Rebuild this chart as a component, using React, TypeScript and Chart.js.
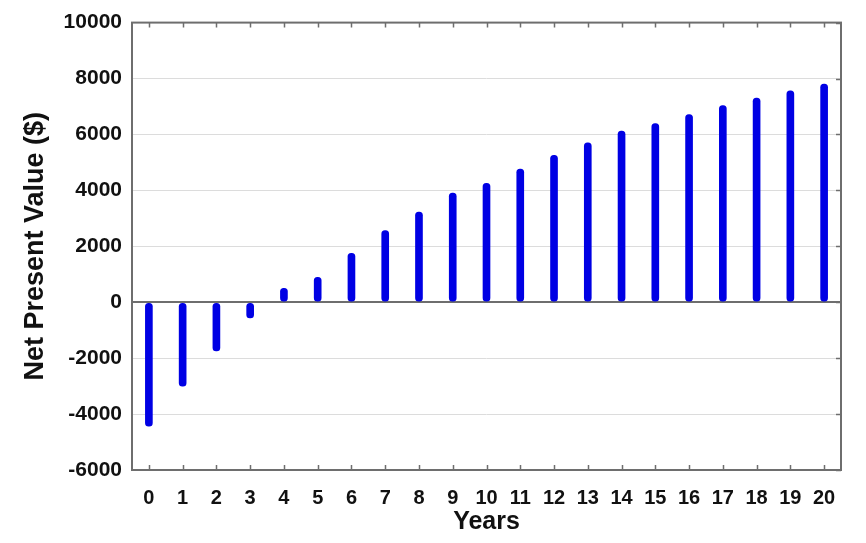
import React, { useEffect, useRef } from "react";
import { Chart, registerables } from "chart.js";

Chart.register(...registerables);

const years = ["0","1","2","3","4","5","6","7","8","9","10","11","12","13","14","15","16","17","18","19","20"];
const npv = [-4430, -3000, -1740, -560, 500, 890, 1745, 2560, 3225, 3900, 4250, 4760, 5255, 5700, 6120, 6390, 6710, 7030, 7300, 7560, 7800];
const yMin = -6000;
const yMax = 10000;
const yStep = 2000;

const FONT = "'Liberation Sans', Arial, Helvetica, sans-serif";

const framePlugin = {
  id: "frame",
  afterDraw(chart: any) {
    const { ctx, chartArea, scales } = chart;
    const { left, right, top, bottom } = chartArea;
    const x = scales.x;
    const y = scales.y;
    ctx.save();
    ctx.strokeStyle = "#6e6e6e";
    ctx.lineWidth = 1.5;
    x.ticks.forEach((_: any, i: number) => {
      const px = Math.round(x.getPixelForTick(i)) + 0.5;
      ctx.beginPath();
      ctx.moveTo(px, top);
      ctx.lineTo(px, top + 5);
      ctx.moveTo(px, bottom);
      ctx.lineTo(px, bottom - 5);
      ctx.stroke();
    });
    y.ticks.forEach((_: any, i: number) => {
      const py = Math.round(y.getPixelForTick(i)) + 0.5;
      ctx.beginPath();
      ctx.moveTo(right, py);
      ctx.lineTo(right - 5, py);
      ctx.stroke();
    });
    ctx.lineWidth = 2;
    ctx.strokeRect(left, top, right - left, bottom - top);
    ctx.restore();
  },
};

export default function App() {
  const ref = useRef<HTMLCanvasElement | null>(null);
  useEffect(() => {
    if (!ref.current) return;
    const chart = new Chart(ref.current, {
      type: "bar",
      data: {
        labels: years,
        datasets: [
          {
            data: npv,
            backgroundColor: "#0000e4",
            barThickness: 7,
            borderRadius: 4,
            borderSkipped: false,
          },
        ],
      },
      options: {
        responsive: false,
        animation: false,
        layout: { padding: { left: 0, top: 19, right: 25, bottom: 0 } },
        plugins: { legend: { display: false }, tooltip: { enabled: false } },
        scales: {
          x: {
            offset: true,
            grid: { display: false },
            border: { display: false },
            ticks: {
              color: "#111",
              padding: 8,
              maxRotation: 0,
              autoSkip: false,
              font: { family: FONT, size: 20, weight: "bold" },
            },
            title: {
              display: true,
              text: "Years",
              color: "#111",
              padding: { top: 0, bottom: 6 },
              font: { family: FONT, size: 25, weight: "bold" },
            },
            afterFit(scale: any) {
              scale.height = 73;
            },
          },
          y: {
            min: yMin,
            max: yMax,
            border: { display: false },
            grid: {
              drawTicks: false,
              color: (c: any) => (c.tick && c.tick.value === 0 ? "#6e6e6e" : "#dcdcdc"),
              lineWidth: (c: any) => (c.tick && c.tick.value === 0 ? 2 : 1),
            },
            ticks: {
              stepSize: yStep,
              color: "#111",
              padding: 10,
              callback: (v: any) => String(v),
              font: { family: FONT, size: 21, weight: "bold" },
            },
            title: {
              display: true,
              text: "Net Present Value ($)",
              color: "#111",
              padding: { top: 19, bottom: 0 },
              font: { family: FONT, size: 27, weight: "bold" },
            },
            afterFit(scale: any) {
              scale.width = 132;
            },
          },
        },
      },
      plugins: [framePlugin],
    });
    return () => chart.destroy();
  }, []);
  return (
    <div style={{ position: "fixed", left: 0, top: 0, width: 866, height: 543, background: "#fff" }}>
      <canvas ref={ref} width={866} height={543} style={{ display: "block" }} />
    </div>
  );
}
